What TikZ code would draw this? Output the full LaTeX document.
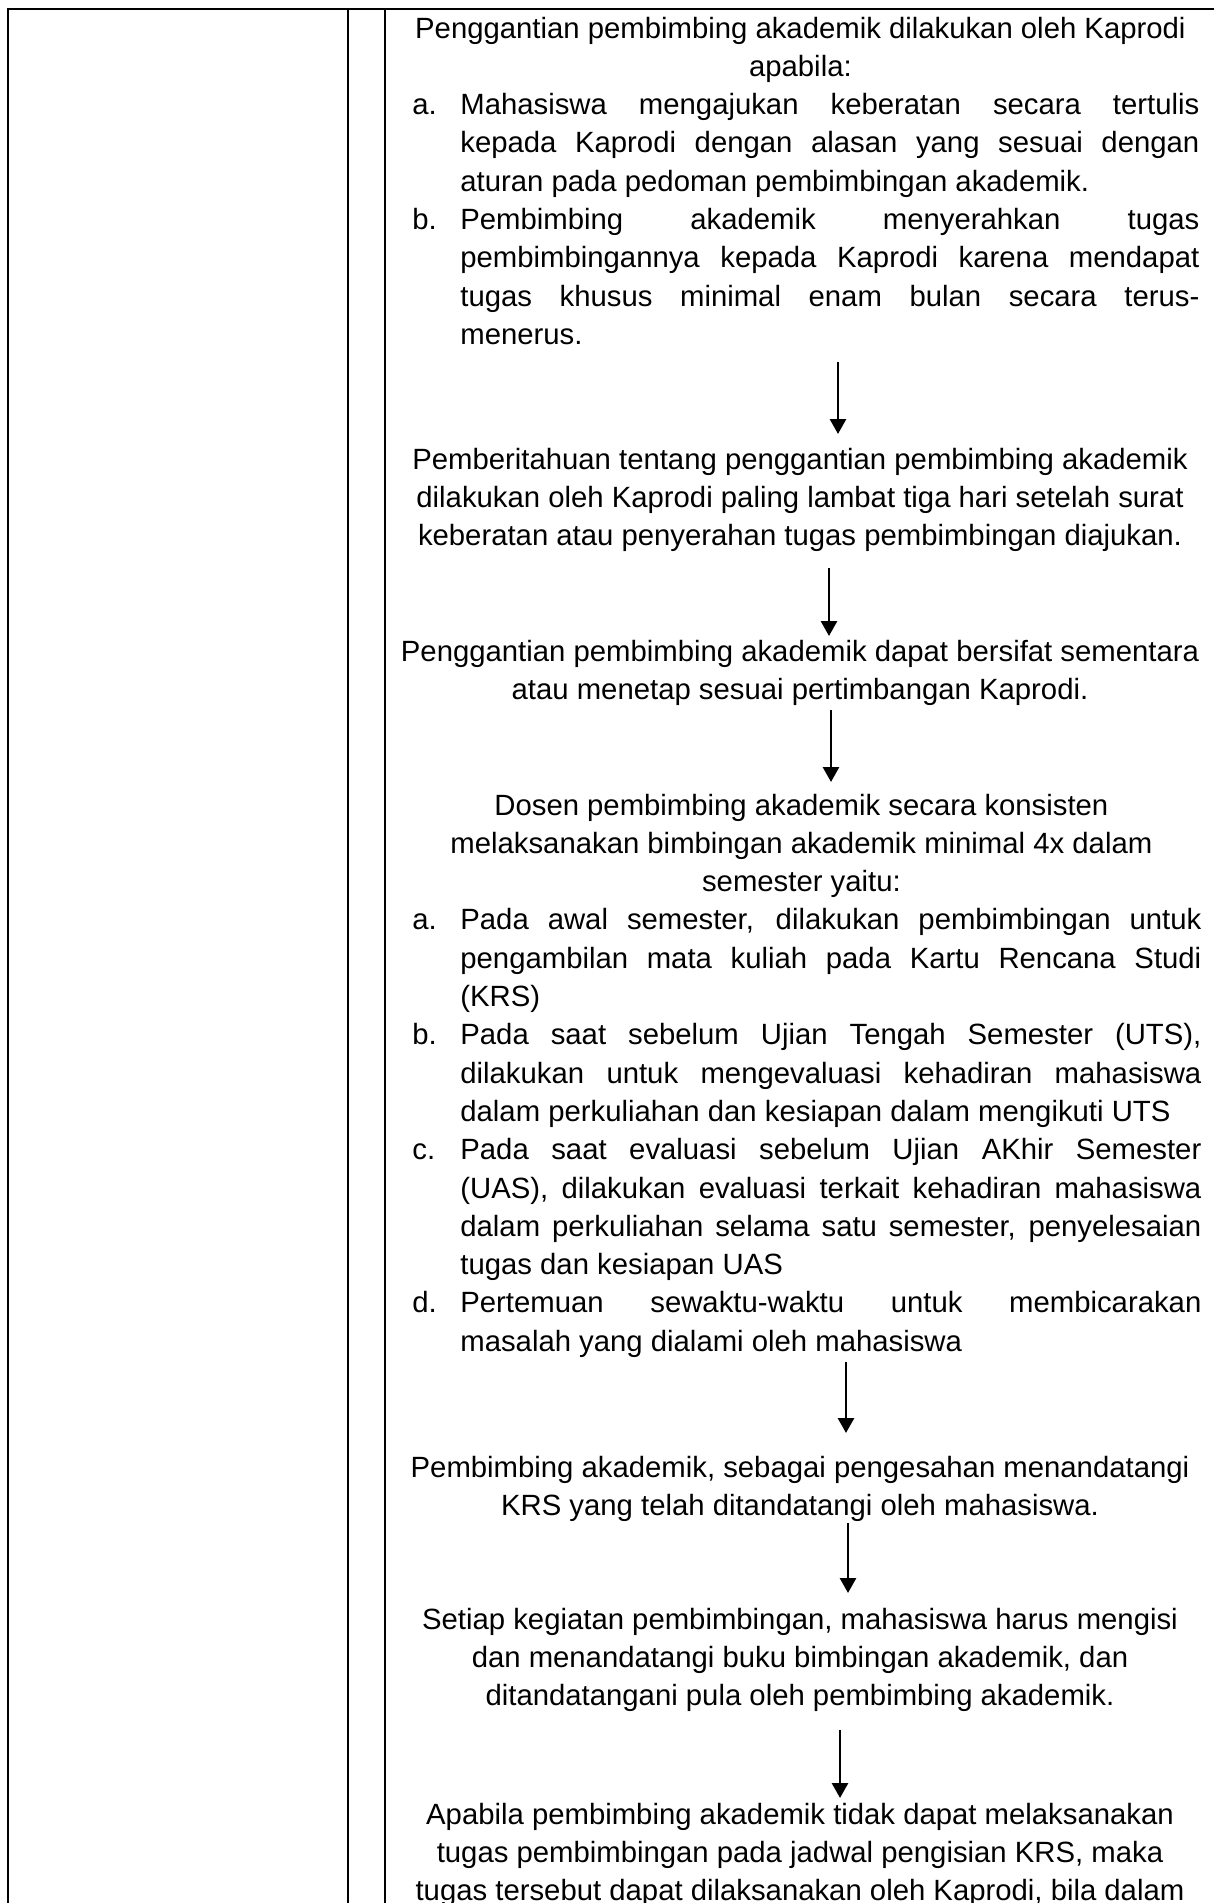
\documentclass[tikz,border=0pt]{standalone}
\usepackage{fontspec}
\setmainfont{Liberation Sans}
\usetikzlibrary{arrows.meta}
\newdimen\px \px=0.5pt
\newcommand\blockfont{\fontsize{14.65pt}{19.15pt}\selectfont\hbadness=10000\tolerance=10000}
\newcommand\itm[2]{\par\noindent\hangindent=48\px\hangafter=1\makebox[48\px][l]{#1}#2\par}
\newcommand\headc[1]{{\centering\advance\rightskip by 11\px #1\par}}
\tikzset{
  tbl/.style={line width=1.15pt, line join=miter},
  blk/.style={anchor=base west, inner sep=0pt},
  blkc/.style={anchor=base, inner sep=0pt},
  arr/.style={line width=1.4pt, -{Triangle[width=8pt,length=7.5pt]}},
}
\begin{document}
\begin{tikzpicture}[x=0.5pt,y=-0.5pt]
\useasboundingbox[fill=white] (0,0) rectangle (1214,1903);
% table frame
\coordinate (tl) at (8,8.7);
\coordinate (tr) at (1214,8.7);
\coordinate (bl) at (8,1903);
\coordinate (c1t) at (348,8.7);
\coordinate (c1b) at (348,1903);
\coordinate (c2t) at (385,8.7);
\coordinate (c2b) at (385,1903);
\draw[tbl] (bl) -- (tl) -- (tr);
\draw[tbl] (c1t) -- (c1b);
\draw[tbl] (c2t) -- (c2b);

% blocks
\node[blk] (b1) at (412,38) {\parbox[t]{787\px}{\blockfont
\headc{Penggantian pembimbing akademik dilakukan oleh Kaprodi\\ apabila:}
\itm{a.}{Mahasiswa mengajukan keberatan secara tertulis\linebreak kepada Kaprodi dengan alasan yang sesuai dengan\linebreak aturan pada pedoman pembimbingan akademik.}
\itm{b.}{Pembimbing akademik menyerahkan tugas\linebreak pembimbingannya kepada Kaprodi karena mendapat\linebreak tugas khusus minimal enam bulan secara terus-\linebreak menerus.}}};

\node[blkc] (b2) at (800,469) {\parbox[t]{900\px}{\blockfont\centering
Pemberitahuan tentang penggantian pembimbing akademik\\
dilakukan oleh Kaprodi paling lambat tiga hari setelah surat\\
keberatan atau penyerahan tugas pembimbingan diajukan.}};

\node[blkc] (b3) at (800,661) {\parbox[t]{900\px}{\blockfont\centering
Penggantian pembimbing akademik dapat bersifat sementara\\
atau menetap sesuai pertimbangan Kaprodi.}};

\node[blk] (b4) at (412,815) {\parbox[t]{789\px}{\blockfont
\headc{Dosen pembimbing akademik secara konsisten\\ melaksanakan bimbingan akademik minimal 4x dalam\\ semester yaitu:}
\itm{a.}{Pada awal semester, dilakukan pembimbingan untuk\linebreak pengambilan mata kuliah pada Kartu Rencana Studi\linebreak (KRS)}
\itm{b.}{Pada saat sebelum Ujian Tengah Semester (UTS),\linebreak dilakukan untuk mengevaluasi kehadiran mahasiswa\linebreak dalam perkuliahan dan kesiapan dalam mengikuti UTS}
\itm{c.}{Pada saat evaluasi sebelum Ujian AKhir Semester\linebreak (UAS), dilakukan evaluasi terkait kehadiran mahasiswa\linebreak dalam perkuliahan selama satu semester, penyelesaian\linebreak tugas dan kesiapan UAS}
\itm{d.}{Pertemuan sewaktu-waktu untuk membicarakan\linebreak masalah yang dialami oleh mahasiswa}}};

\node[blkc] (b5) at (800,1477) {\parbox[t]{900\px}{\blockfont\centering
Pembimbing akademik, sebagai pengesahan menandatangi\\
KRS yang telah ditandatangi oleh mahasiswa.}};

\node[blkc] (b6) at (800,1629) {\parbox[t]{900\px}{\blockfont\centering
Setiap kegiatan pembimbingan, mahasiswa harus mengisi\\
dan menandatangi buku bimbingan akademik, dan\\
ditandatangani pula oleh pembimbing akademik.}};

\node[blkc] (b7) at (800,1824) {\parbox[t]{900\px}{\blockfont\centering
Apabila pembimbing akademik tidak dapat melaksanakan\\
tugas pembimbingan pada jadwal pengisian KRS, maka\\
tugas tersebut dapat dilaksanakan oleh Kaprodi, bila dalam}};

% arrows
\coordinate (a1s) at (838,362);  \coordinate (a1e) at (838,434);
\coordinate (a2s) at (829,568);  \coordinate (a2e) at (829,636);
\coordinate (a3s) at (831,710);  \coordinate (a3e) at (831,782);
\coordinate (a4s) at (846,1362); \coordinate (a4e) at (846,1433);
\coordinate (a5s) at (848,1523); \coordinate (a5e) at (848,1593);
\coordinate (a6s) at (840,1730); \coordinate (a6e) at (840,1798);
\draw[arr] (a1s) -- (a1e);
\draw[arr] (a2s) -- (a2e);
\draw[arr] (a3s) -- (a3e);
\draw[arr] (a4s) -- (a4e);
\draw[arr] (a5s) -- (a5e);
\draw[arr] (a6s) -- (a6e);
\end{tikzpicture}
\end{document}
